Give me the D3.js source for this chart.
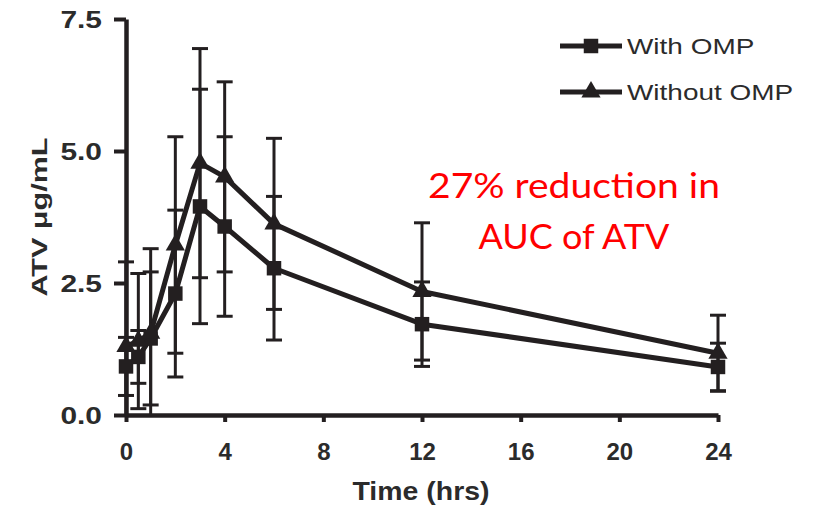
<!DOCTYPE html>
<html>
<head>
<meta charset="utf-8">
<script src="https://cdn.jsdelivr.net/npm/d3@7"></script>
<style>
  html, body { margin: 0; padding: 0; background: #fff; }
  svg { display: block; }
</style>
</head>
<body>
<svg id="chart" width="813" height="508"></svg>
<script>
// ---- data ----
const times = [0, 0.5, 1, 2, 3, 4, 6, 12, 24];
const withOMP = [0.92, 1.1, 1.45, 2.3, 3.95, 3.57, 2.78, 1.72, 0.91];
const withOMPErr = [0.55, 0.5, 1.26, 1.58, 2.22, 1.70, 1.36, 0.80, 0.45];
const withoutOMP = [1.3, 1.4, 1.55, 3.22, 4.77, 4.51, 3.62, 2.34, 1.17];
const withoutOMPErr = [1.6, 1.28, 1.6, 2.05, 2.17, 1.80, 1.62, 1.30, 0.72];
const xTicks = [0, 4, 8, 12, 16, 20, 24];
const yTicks = [0, 2.5, 5.0, 7.5];
const seriesNames = ["With OMP", "Without OMP"];
const annotation = ["27% reduction in", "AUC of ATV"];

// ---- setup ----
const ink = "#231f20";
const txt = "#2b2b2b";
const sans = "'Liberation Sans', Arial, sans-serif";
const svg = d3.select("#chart");
const x = d3.scaleLinear().domain([0, 24]).range([126, 718]);
const y = d3.scaleLinear().domain([0, 7.5]).range([415, 19]);

// widen a text element by a factor (the reference glyphs are horizontally stretched)
function widen(sel, factor) {
  sel.each(function () {
    const w = this.getComputedTextLength();
    d3.select(this).attr("textLength", w * factor).attr("lengthAdjust", "spacingAndGlyphs");
  });
}

const series = [
  { name: seriesNames[0], vals: withOMP, err: withOMPErr, shape: d3.symbolSquare, size: 210 },
  { name: seriesNames[1], vals: withoutOMP, err: withoutOMPErr, shape: d3.symbolTriangle, size: 160 }
];

// axes
const yAxis = svg.append("g").attr("transform", `translate(${x(0)},0)`)
  .call(d3.axisLeft(y).tickValues(yTicks).tickFormat(d3.format(".1f")).tickSize(12).tickSizeOuter(0).tickPadding(12));
const xAxis = svg.append("g").attr("transform", `translate(0,${y(0)})`)
  .call(d3.axisBottom(x).tickValues(xTicks).tickSize(7).tickSizeOuter(0).tickPadding(21));
[yAxis, xAxis].forEach(g => {
  g.select(".domain").attr("stroke", ink).attr("stroke-width", 4.5);
  g.selectAll(".tick line").attr("stroke", ink).attr("stroke-width", 4);
  g.selectAll(".tick text").attr("fill", txt)
    .style("font-family", sans).style("font-weight", "bold");
});
yAxis.selectAll(".tick text").style("font-size", "23px").attr("dy", "0.38em");
widen(yAxis.selectAll(".tick text"), 1.3);
xAxis.selectAll(".tick text").style("font-size", "24px");

// axis titles
const yTitle = svg.append("text")
  .attr("transform", `translate(47,217) rotate(-90)`)
  .attr("text-anchor", "middle")
  .style("font-family", sans)
  .style("font-size", "22px").style("font-weight", "bold").attr("fill", txt)
  .text("ATV  \u03bcg/mL");
yTitle.attr("textLength", 159).attr("lengthAdjust", "spacingAndGlyphs");
const xTitle = svg.append("text")
  .attr("x", 421).attr("y", 500)
  .attr("text-anchor", "middle")
  .style("font-family", sans)
  .style("font-size", "25px").style("font-weight", "bold").attr("fill", txt)
  .text("Time (hrs)");
xTitle.attr("textLength", 137).attr("lengthAdjust", "spacingAndGlyphs");

// error bars
const capW = 8;
series.forEach(s => {
  const g = svg.append("g").attr("stroke", ink).attr("stroke-width", 3);
  times.forEach((t, i) => {
    const hi = s.vals[i] + s.err[i];
    const lo = Math.max(0, s.vals[i] - s.err[i]);
    g.append("line").attr("x1", x(t)).attr("x2", x(t)).attr("y1", y(hi)).attr("y2", y(lo));
    g.append("line").attr("x1", x(t) - capW).attr("x2", x(t) + capW).attr("y1", y(hi)).attr("y2", y(hi));
    if (s.vals[i] - s.err[i] > 0)
      g.append("line").attr("x1", x(t) - capW).attr("x2", x(t) + capW).attr("y1", y(lo)).attr("y2", y(lo));
  });
});

// lines and markers
const line = d3.line().x(d => x(d[0])).y(d => y(d[1]));
series.forEach(s => {
  const pts = times.map((t, i) => [t, s.vals[i]]);
  svg.append("path").datum(pts).attr("d", line)
    .attr("fill", "none").attr("stroke", ink).attr("stroke-width", 5).attr("stroke-linejoin", "round");
  svg.append("g").selectAll("path").data(pts).join("path")
    .attr("transform", d => `translate(${x(d[0])},${y(d[1])})`)
    .attr("d", d3.symbol().type(s.shape).size(s.size))
    .attr("fill", ink);
});

// legend
series.forEach((s, i) => {
  const ly = 46 + i * 46;
  const g = svg.append("g");
  g.append("line").attr("x1", 560).attr("x2", 622).attr("y1", ly).attr("y2", ly)
    .attr("stroke", ink).attr("stroke-width", 5);
  g.append("path").attr("transform", `translate(591,${ly})`)
    .attr("d", d3.symbol().type(s.shape).size(s.size)).attr("fill", ink);
  const t = g.append("text").attr("x", 627).attr("y", ly + 8)
    .style("font-family", sans)
    .style("font-size", "22px").attr("fill", txt)
    .text(s.name);
  widen(t, 1.27);
});

// annotation
const annoWidths = [292, 191];
annotation.forEach((t, i) => {
  svg.append("text").attr("x", 574).attr("y", 198 + i * 51)
    .attr("text-anchor", "middle")
    .style("font-family", "Lato, 'Open Sans', sans-serif")
    .style("font-size", "35px").attr("fill", "#ff0000")
    .attr("textLength", annoWidths[i]).attr("lengthAdjust", "spacingAndGlyphs")
    .text(t);
});
</script>
</body>
</html>
